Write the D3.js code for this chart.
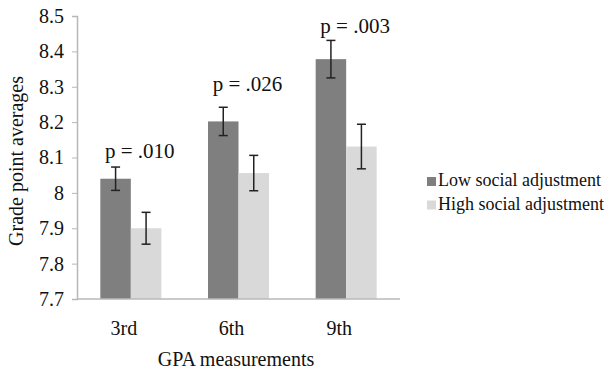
<!DOCTYPE html>
<html>
<head>
<meta charset="utf-8">
<script src="https://cdn.jsdelivr.net/npm/d3@7"></script>
<style>
  body { margin: 0; background: #fff; }
</style>
</head>
<body>
<svg width="609" height="372"></svg>
<script>
// grade point averages by social adjustment group
const grades = ['3rd', '6th', '9th'];
const groups = ['Low social adjustment', 'High social adjustment'];
const lowMeans = [8.04, 8.202, 8.378];
const lowErrors = [0.033, 0.04, 0.053];
const highMeans = [7.90, 8.056, 8.131];
const highErrors = [0.045, 0.05, 0.063];
const pLabels = ['p = .010', 'p = .026', 'p = .003'];
const pLabelY = [8.10, 8.289, 8.453];
const yTicks = [7.7, 7.8, 7.9, 8, 8.1, 8.2, 8.3, 8.4, 8.5];

const colors = ['#7f7f7f', '#d9d9d9'];
const serif = '"Liberation Serif"';

const svg = d3.select('svg')
    .style('font-family', serif);

const x0 = d3.scaleBand()
    .domain(grades)
    .range([77, 400]);

const x1 = d3.scaleBand()
    .domain(groups)
    .range([-30.5, 30.5]);

const y = d3.scaleLinear()
    .domain([7.7, 8.5])
    .range([299, 16]);

const rows = grades.map((g, i) => ({
    grade: g,
    bars: [
        {group: groups[0], mean: lowMeans[i], err: lowErrors[i]},
        {group: groups[1], mean: highMeans[i], err: highErrors[i]}
    ]
}));

// y axis
const yAxis = svg.append('g')
    .attr('transform', 'translate(77,0)')
    .call(d3.axisLeft(y).tickValues(yTicks).tickSize(5).tickPadding(8)
        .tickFormat(d => d === 8 ? '8' : d3.format('.1f')(d)));
yAxis.attr('font-family', null).attr('font-size', null)
    .style('font-family', serif);
yAxis.select('.domain').attr('stroke', '#b8b8b8').attr('stroke-width', 1.5);
yAxis.selectAll('.tick line').attr('stroke', '#b8b8b8');
yAxis.selectAll('.tick text')
    .attr('fill', '#111')
    .style('font-family', serif)
    .style('font-size', '20px');

// bars
const group = svg.append('g').selectAll('g')
    .data(rows).enter()
    .append('g')
    .attr('transform', d => `translate(${x0(d.grade) + x0.bandwidth() / 2},0)`);

group.selectAll('rect')
    .data(d => d.bars).enter()
    .append('rect')
    .attr('x', d => x1(d.group))
    .attr('width', x1.bandwidth())
    .attr('y', d => y(d.mean))
    .attr('height', d => y(7.7) - y(d.mean))
    .attr('fill', (d, i) => colors[i]);

// error bars
const err = group.selectAll('.err')
    .data(d => d.bars).enter()
    .append('g')
    .attr('class', 'err')
    .attr('stroke', '#222')
    .attr('stroke-width', 1.5);

const cx = d => x1(d.group) + x1.bandwidth() / 2;
err.append('line')
    .attr('x1', cx).attr('x2', cx)
    .attr('y1', d => y(d.mean + d.err))
    .attr('y2', d => y(d.mean - d.err));
err.append('line')
    .attr('x1', d => cx(d) - 4.5).attr('x2', d => cx(d) + 4.5)
    .attr('y1', d => y(d.mean + d.err)).attr('y2', d => y(d.mean + d.err));
err.append('line')
    .attr('x1', d => cx(d) - 4.5).attr('x2', d => cx(d) + 4.5)
    .attr('y1', d => y(d.mean - d.err)).attr('y2', d => y(d.mean - d.err));

// x axis baseline
svg.append('line')
    .attr('x1', 77).attr('x2', 400)
    .attr('y1', y(7.7)).attr('y2', y(7.7))
    .attr('stroke', '#b8b8b8')
    .attr('stroke-width', 1.5);

// category labels
svg.append('g').selectAll('text')
    .data(grades).enter()
    .append('text')
    .attr('x', d => x0(d) + x0.bandwidth() / 2 - 7)
    .attr('y', 335)
    .attr('text-anchor', 'middle')
    .attr('fill', '#111')
    .style('font-size', '20px')
    .text(d => d);

// p values
svg.append('g').selectAll('text')
    .data(grades).enter()
    .append('text')
    .attr('x', d => x0(d) + x0.bandwidth() / 2 + 9)
    .attr('y', (d, i) => y(pLabelY[i]))
    .attr('text-anchor', 'middle')
    .attr('fill', '#111')
    .style('font-size', '21px')
    .text((d, i) => pLabels[i]);

// axis titles
svg.append('text')
    .attr('transform', 'translate(23,161) rotate(-90)')
    .attr('text-anchor', 'middle')
    .attr('fill', '#111')
    .style('font-size', '20px')
    .text('Grade point averages');

svg.append('text')
    .attr('x', 236)
    .attr('y', 366)
    .attr('text-anchor', 'middle')
    .attr('fill', '#111')
    .style('font-size', '20px')
    .text('GPA measurements');

// legend
const legend = svg.append('g').selectAll('g')
    .data(groups).enter()
    .append('g')
    .attr('transform', (d, i) => `translate(427,${177 + i * 23.5})`);

legend.append('rect')
    .attr('width', 9).attr('height', 9)
    .attr('fill', (d, i) => colors[i]);

legend.append('text')
    .attr('x', 11)
    .attr('y', 9)
    .attr('fill', '#111')
    .style('font-size', '18px')
    .text(d => d);
</script>
</body>
</html>
